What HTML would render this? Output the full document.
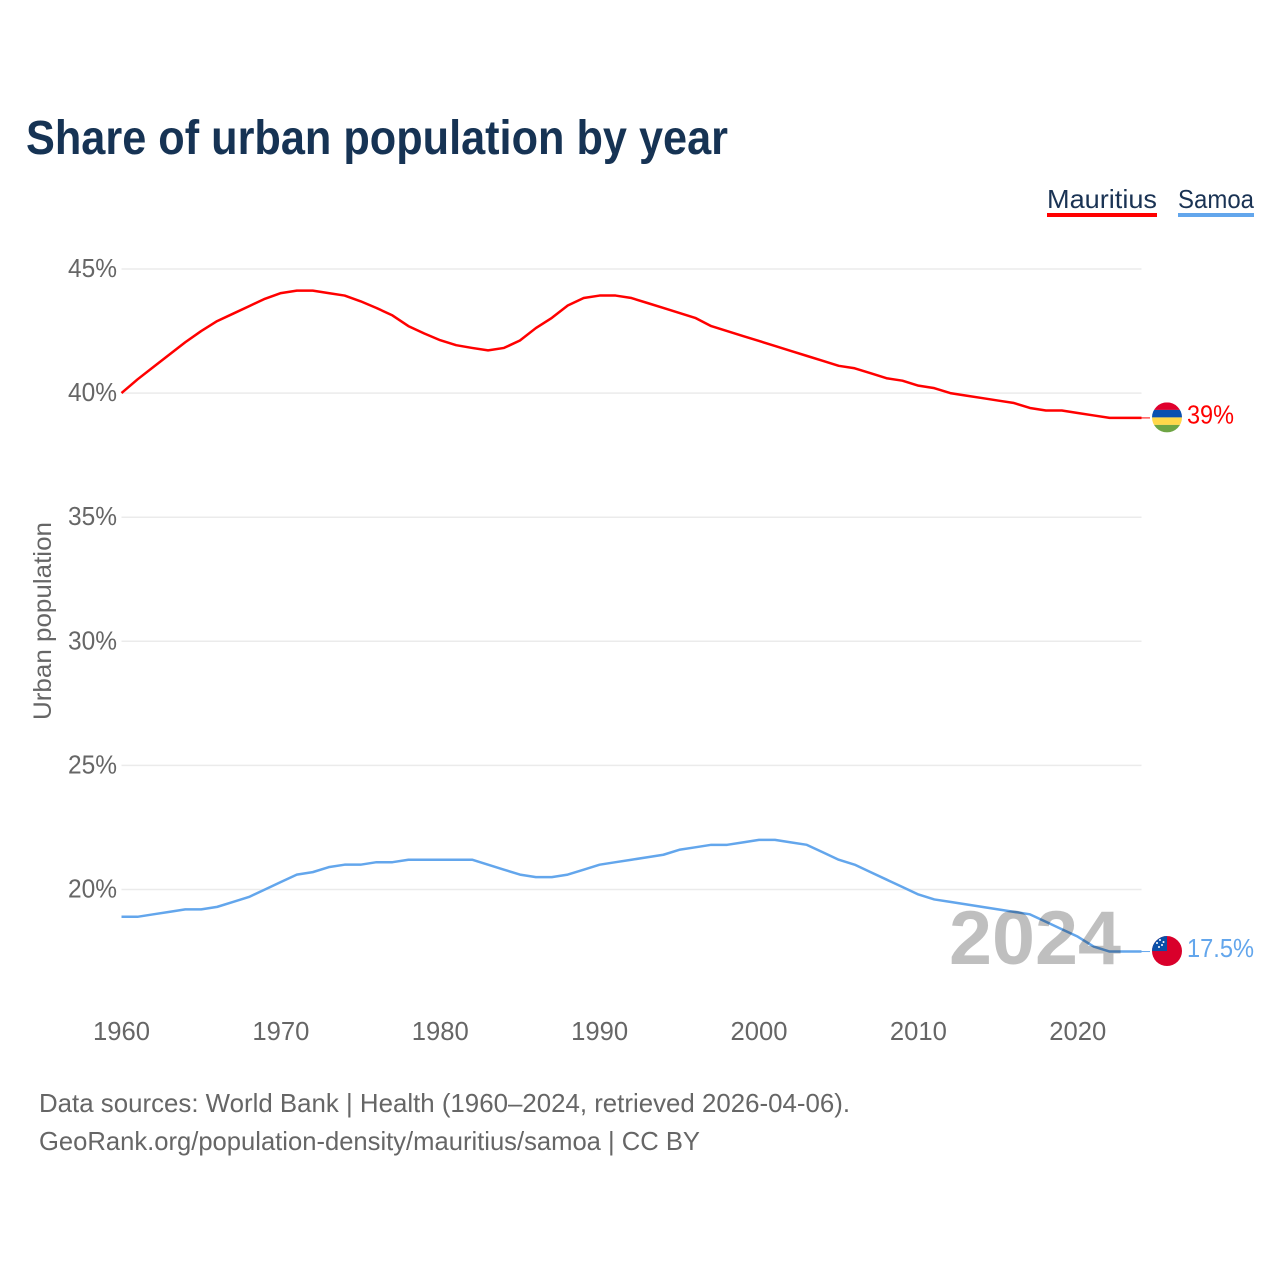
<!DOCTYPE html>
<html lang="en">
<head>
<meta charset="utf-8">
<title>Share of urban population by year</title>
<style>
html,body{margin:0;padding:0;background:#fff;width:1280px;height:1280px;overflow:hidden}
svg{display:block;font-family:"Liberation Sans",sans-serif}
</style>
</head>
<body>
<svg id="chart" xmlns="http://www.w3.org/2000/svg" width="1280" height="1280" viewBox="0 0 1280 1280">
  <defs>
    <clipPath id="flag-clip"><circle cx="0" cy="0" r="15"></circle></clipPath>
  </defs>
  <text x="26" y="154" font-size="48" font-weight="700" fill="#163354" textLength="702" lengthAdjust="spacingAndGlyphs">Share of urban population by year</text>

  <g>
    <text x="1047" y="208" font-size="26" fill="#1a3354" textLength="110" lengthAdjust="spacingAndGlyphs">Mauritius</text>
    <rect x="1047" y="213" width="110" height="4" fill="#ff0000"></rect>
  </g>
  <g>
    <text x="1178" y="208" font-size="26" fill="#1a3354" textLength="76" lengthAdjust="spacingAndGlyphs">Samoa</text>
    <rect x="1178" y="213" width="76" height="4" fill="#63a6ec"></rect>
  </g>

  <g id="grid"></g>
  <g id="y-ticks"></g>
  <g id="x-ticks"></g>
  <text transform="translate(51,720) rotate(-90)" x="0" y="0" font-size="25" fill="#666666" textLength="198" lengthAdjust="spacingAndGlyphs">Urban population</text>

  <g id="series"></g>

  <text x="949" y="964" font-size="76" font-weight="700" fill="#000000" fill-opacity="0.25" textLength="172" lengthAdjust="spacingAndGlyphs">2024</text>

  <g id="end-markers"></g>

  <text x="39" y="1112" font-size="26" fill="#666666" textLength="811" lengthAdjust="spacingAndGlyphs">Data sources: World Bank | Health (1960–2024, retrieved 2026-04-06).</text>
  <text x="39" y="1150" font-size="26" fill="#666666" textLength="661" lengthAdjust="spacingAndGlyphs">GeoRank.org/population-density/mauritius/samoa | CC BY</text>
</svg>
<script>
const years = [1960,1961,1962,1963,1964,1965,1966,1967,1968,1969,1970,1971,1972,1973,1974,1975,1976,1977,1978,1979,1980,1981,1982,1983,1984,1985,1986,1987,1988,1989,1990,1991,1992,1993,1994,1995,1996,1997,1998,1999,2000,2001,2002,2003,2004,2005,2006,2007,2008,2009,2010,2011,2012,2013,2014,2015,2016,2017,2018,2019,2020,2021,2022,2023,2024];
const mauritiusValues = [40.0,40.55,41.05,41.55,42.05,42.5,42.9,43.2,43.5,43.8,44.03,44.13,44.13,44.03,43.93,43.7,43.43,43.13,42.7,42.4,42.13,41.93,41.82,41.72,41.82,42.12,42.62,43.03,43.53,43.83,43.93,43.93,43.83,43.63,43.43,43.23,43.03,42.7,42.5,42.3,42.1,41.9,41.7,41.5,41.3,41.1,41.0,40.8,40.6,40.5,40.3,40.2,40.0,39.9,39.8,39.7,39.6,39.4,39.3,39.3,39.2,39.1,39.0,39.0,39.0];
const samoaValues = [18.9,18.9,19.0,19.1,19.2,19.2,19.3,19.5,19.7,20.0,20.3,20.6,20.7,20.9,21.0,21.0,21.1,21.1,21.2,21.2,21.2,21.2,21.2,21.0,20.8,20.6,20.5,20.5,20.6,20.8,21.0,21.1,21.2,21.3,21.4,21.6,21.7,21.8,21.8,21.9,22.0,22.0,21.9,21.8,21.5,21.2,21.0,20.7,20.4,20.1,19.8,19.6,19.5,19.4,19.3,19.2,19.1,19.0,18.7,18.4,18.1,17.7,17.5,17.5,17.5];
const yTickValues = [20,25,30,35,40,45];
const xTickYears = [1960,1970,1980,1990,2000,2010,2020];
const mauritiusEndLabel = "39%";
const samoaEndLabel = "17.5%";

const NS = "http://www.w3.org/2000/svg";
function xScale(year){ return 121.5 + (year - 1960) * (1141.5 - 121.5) / 64; }
function yScale(v){ return 269 + (45 - v) * (889.5 - 269) / 25; }
function make(tag, attrs, parent){
  const el = document.createElementNS(NS, tag);
  for (const k in attrs) el.setAttribute(k, attrs[k]);
  parent.appendChild(el);
  return el;
}

const grid = document.getElementById("grid");
const yTicks = document.getElementById("y-ticks");
yTickValues.forEach(function(v){
  const line = make("line", {x1:xScale(1960), x2:xScale(2024), y1:yScale(v), y2:yScale(v), stroke:"#ebebeb", "stroke-width":1.5}, grid);
  
  
  const label = make("text", {x:117, y:yScale(v)+8, "text-anchor":"end", "font-size":26, fill:"#666666", textLength:49, lengthAdjust:"spacingAndGlyphs"}, yTicks);
  
  
  label.textContent = v + "%";
});

const xTicks = document.getElementById("x-ticks");
xTickYears.forEach(function(y){
  const label = make("text", {x:xScale(y), y:1040, "text-anchor":"middle", "font-size":26, fill:"#666666", textLength:57, lengthAdjust:"spacingAndGlyphs"}, xTicks);
  
  
  label.textContent = y;
});

function linePath(values){
  return values.map(function(v,i){ return (i ? "L" : "M") + xScale(years[i]).toFixed(2) + " " + yScale(v).toFixed(2); }).join(" ");
}
const seriesGroup = document.getElementById("series");
const mauritiusLine = make("path", {d:linePath(mauritiusValues), fill:"none", stroke:"#ff0000", "stroke-width":2.5, "stroke-linejoin":"round"}, seriesGroup);


const samoaLine = make("path", {d:linePath(samoaValues), fill:"none", stroke:"#63a6ec", "stroke-width":2.5, "stroke-linejoin":"round"}, seriesGroup);



const markers = document.getElementById("end-markers");

// Mauritius end marker
const mY = yScale(mauritiusValues[mauritiusValues.length - 1]);
const mConn = make("line", {x1:xScale(2024), x2:1150, y1:mY, y2:mY, stroke:"#ff0000", "stroke-width":1}, markers);


const mFlag = make("g", {transform:"translate(1167," + (mY - 0.5) + ")", "clip-path":"url(#flag-clip)"}, markers);


[["#e0002d",-15],["#0a50b0",-7.5],["#ffd84a",0],["#6ea544",7.5]].forEach(function(s){
  make("rect", {x:-15, y:s[1], width:30, height:7.5, fill:s[0]}, mFlag);
});
const mLabel = make("text", {x:1187, y:mY+5.5, "font-size":26, fill:"#ff0000", textLength:47, lengthAdjust:"spacingAndGlyphs"}, markers);


mLabel.textContent = mauritiusEndLabel;

// Samoa end marker
const sY = yScale(samoaValues[samoaValues.length - 1]);
const sConn = make("line", {x1:xScale(2024), x2:1150, y1:sY, y2:sY, stroke:"#63a6ec", "stroke-width":1}, markers);


const sFlag = make("g", {transform:"translate(1167," + (sY - 0.5) + ")", "clip-path":"url(#flag-clip)"}, markers);


make("rect", {x:-15, y:-15, width:30, height:30, fill:"#d9002b"}, sFlag);
make("rect", {x:-15, y:-15, width:15, height:15, fill:"#0a4fa8"}, sFlag);
[[-7,-11],[-3.5,-9],[-10,-8],[-5,-6],[-8,-4]].forEach(function(p){
  make("circle", {cx:p[0], cy:p[1], r:1, fill:"#ffffff"}, sFlag);
});
const sLabel = make("text", {x:1187, y:sY+5.5, "font-size":26, fill:"#63a6ec", textLength:67, lengthAdjust:"spacingAndGlyphs"}, markers);


sLabel.textContent = samoaEndLabel;
</script>
</body>
</html>
